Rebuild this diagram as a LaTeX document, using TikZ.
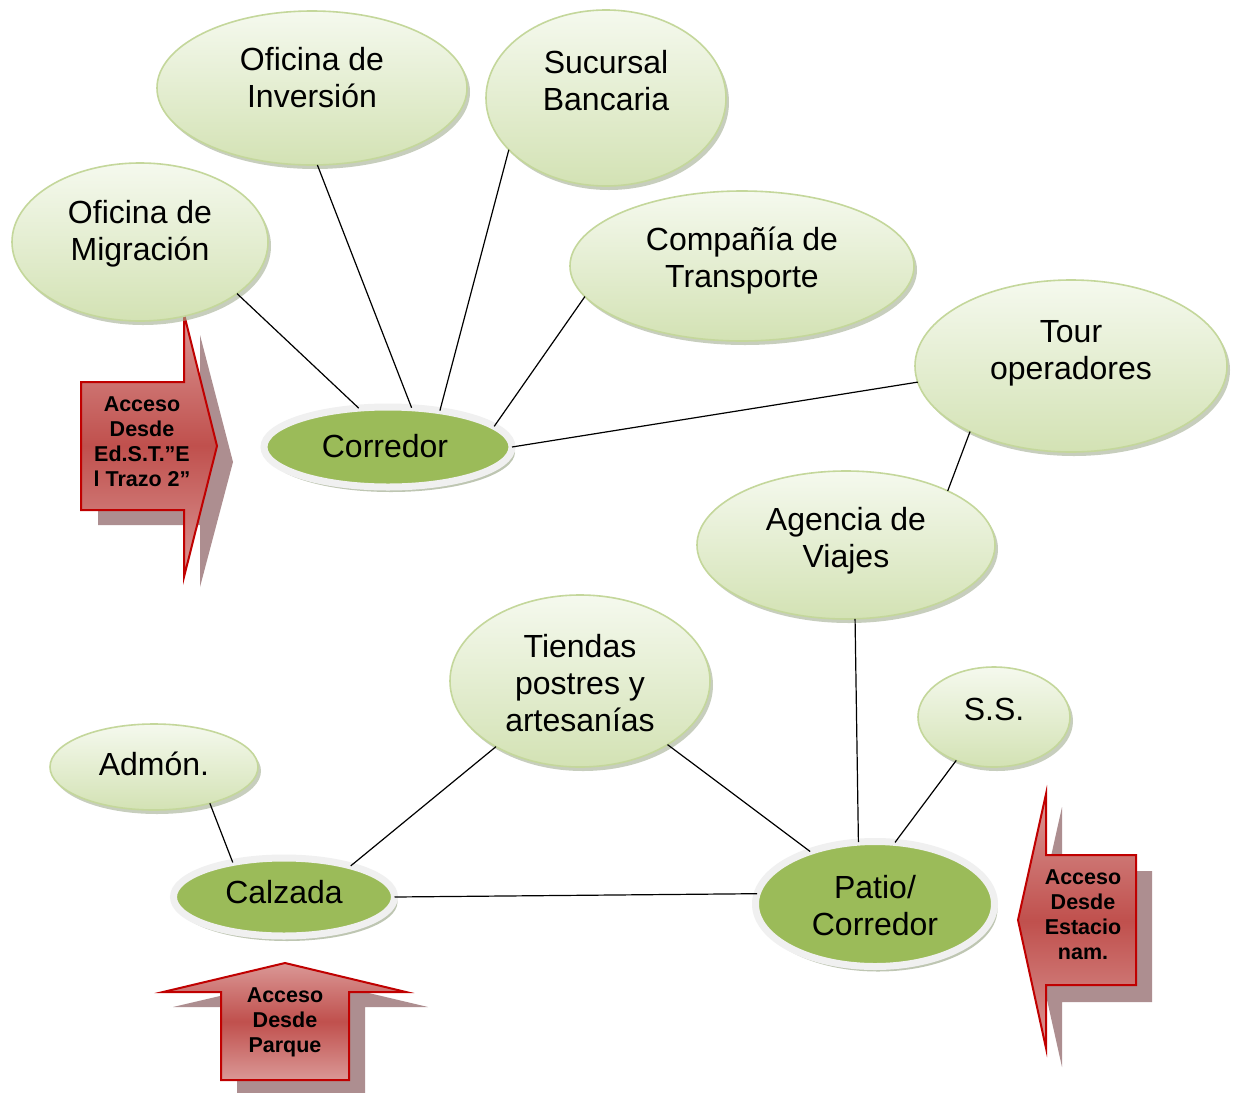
\documentclass[tikz,border=0pt]{standalone}
\usepackage{fontspec}
\setmainfont{Liberation Sans}
\usetikzlibrary{shapes.geometric,shadows}
\definecolor{bubtop}{HTML}{F5F9EE}
\definecolor{bubbot}{HTML}{D3E2B4}
\definecolor{bubline}{HTML}{C4D79B}
\definecolor{hubgreen}{HTML}{9BBB59}
\definecolor{hubring}{HTML}{F0F0F0}
\definecolor{shadowgreen}{HTML}{A3AE92}
\definecolor{arrlight}{HTML}{DA9896}
\definecolor{arrmid}{HTML}{C0504D}
\definecolor{arrline}{HTML}{C00000}
\definecolor{arrshadow}{HTML}{AD8E90}
\newcommand\tx[2]{\raisebox{#1}[\height][\depth]{\fontsize{32}{37}\selectfont\begin{tabular}{@{}c@{}}#2\end{tabular}}}
\tikzset{
  bubble/.style={ellipse, inner sep=0pt, outer sep=0pt, draw=bubline, line width=1.6pt,
    top color=bubtop, bottom color=bubbot,
    drop shadow={shadow xshift=3pt, shadow yshift=-4pt, fill=shadowgreen, opacity=0.6}},
  hub/.style={ellipse, inner sep=0pt, outer sep=0pt, draw=hubring, line width=7pt, fill=hubgreen,
    drop shadow={shadow xshift=3pt, shadow yshift=-5pt, fill=shadowgreen, opacity=0.7}},
  link/.style={draw=black, line width=1.2pt},
  accbody/.style={draw=arrline, line width=2pt, top color=arrlight, bottom color=arrlight, middle color=arrmid},
  accshadow/.style={fill=arrshadow, draw=none},
  acctext/.style={align=center, font=\bfseries\fontsize{21.5}{25}\selectfont, inner sep=0pt}
}
\begin{document}
\begin{tikzpicture}[x=1pt,y=-1pt]
\useasboundingbox (0,0) rectangle (1235,1093);
\fill[white] (0,0) rectangle (1235,1093);

% arrow shadows
\fill[accshadow] (98,397) -- (200,397) -- (200,335) -- (233,462) -- (200,587) -- (200,525) -- (98,525) -- cycle;
\fill[accshadow] (237,1007) -- (173,1007) -- (301,977) -- (428,1007) -- (365,1007) -- (365,1093) -- (237,1093) -- cycle;
\fill[accshadow] (1152,871) -- (1062,871) -- (1062,807) -- (1033,937) -- (1062,1067) -- (1062,1002) -- (1152,1002) -- cycle;

% arrows
\draw[accbody] (81,382) -- (184,382) -- (184,314) -- (217,446) -- (184,577) -- (184,510) -- (81,510) -- cycle;
\draw[accbody] (221,992) -- (163,992) -- (285,963) -- (406,992) -- (349,992) -- (349,1080) -- (221,1080) -- cycle;
\draw[accbody] (1136,855) -- (1046,855) -- (1046,794) -- (1018,920) -- (1046,1048) -- (1046,985) -- (1136,985) -- cycle;

\node[acctext] (accA) at (142,442) {Acceso\\Desde\\Ed.S.T.”E\\l Trazo 2”};
\node[acctext] (accB) at (285,1022) {Acceso\\Desde\\Parque};
\node[acctext] (accC) at (1083,915) {Acceso\\Desde\\Estacio\\nam.};

% bubbles
\node[bubble, minimum width=310pt, minimum height=154pt] (inv) at (312,88) {\tx{6pt}{Oficina de\\Inversión}};
\node[bubble, minimum width=240pt, minimum height=176pt] (suc) at (606,98) {\tx{13pt}{Sucursal\\Bancaria}};
\node[bubble, minimum width=256pt, minimum height=158pt] (mig) at (140,242) {\tx{7pt}{Oficina de\\Migración}};
\node[bubble, minimum width=344pt, minimum height=150pt] (comp) at (742,266) {\tx{4pt}{Compañía de\\Transporte}};
\node[bubble, minimum width=312pt, minimum height=172pt] (tour) at (1071,366) {\tx{12pt}{Tour\\operadores}};
\node[bubble, minimum width=298pt, minimum height=148pt] (agen) at (846,545) {\tx{3pt}{Agencia de\\Viajes}};
\node[bubble, minimum width=260pt, minimum height=172pt] (tien) at (580,681) {\tx{-6pt}{Tiendas\\postres y\\artesanías}};
\node[bubble, minimum width=152pt, minimum height=100pt] (ss) at (994,717) {\tx{4pt}{S.S.}};
\node[bubble, minimum width=208pt, minimum height=86pt] (adm) at (154,767) {\tx{-1pt}{Admón.}};

% hubs
\node[hub, minimum width=248pt, minimum height=80pt] (corr) at (388,447) {\tx{-3pt}{\hspace*{-6pt}Corredor}};
\node[hub, minimum width=221pt, minimum height=78pt] (calz) at (284,897) {\tx{1pt}{Calzada}};
\node[hub, minimum width=239pt, minimum height=125pt] (patio) at (875,904) {\tx{-6pt}{Patio/\\Corredor}};

% connectors
\draw[link] (mig.-28) -- (corr.127);
\draw[link] (inv.-86) -- (corr.59);
\draw[link] (suc.208) -- (corr.35);
\draw[link] (comp.191) -- (corr.11);
\draw[link] (tour.186) -- (corr.0);
\draw[link] (tour.213) -- (agen.28);
\draw[link] (agen.-83) -- (patio.105);
\draw[link] (tien.218) -- (calz.25);
\draw[link] (tien.-36) -- (patio.141);
\draw[link] (ss.229) -- (patio.72);
\draw[link] (adm.-33) -- (calz.146);
\draw[link] (calz.0) -- (patio.175);
\end{tikzpicture}
\end{document}
